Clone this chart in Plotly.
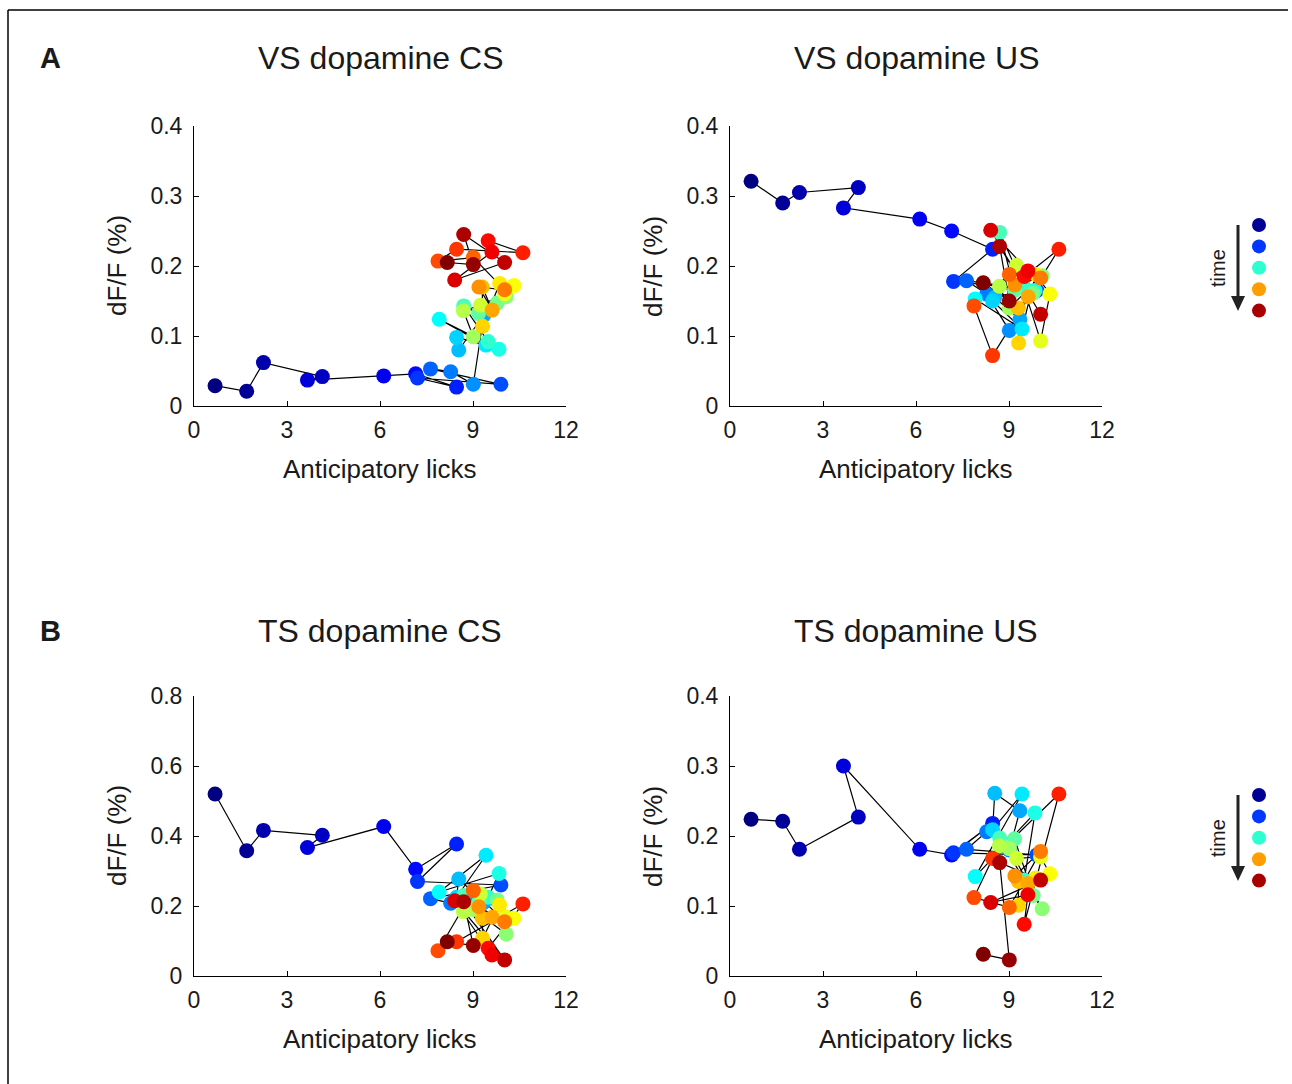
import plotly.graph_objects as go

# ---------------- data ----------------
licks = [0.68, 1.70, 2.24, 4.14, 3.66, 6.12, 7.15, 8.47, 7.21, 9.90,
         7.63, 8.28, 9.01, 9.35, 8.54, 8.47, 9.42, 7.91, 9.84, 9.49,
         8.70, 9.18, 9.78, 10.07, 9.01, 8.69, 9.24, 10.02, 10.32, 9.86,
         9.31, 9.30, 9.62, 9.19, 10.02, 9.01, 7.87, 8.47, 10.61, 9.49,
         9.61, 8.41, 10.02, 8.70, 9.01, 8.17]

vs_cs = [0.029, 0.021, 0.062, 0.042, 0.037, 0.043, 0.046, 0.027, 0.040, 0.031,
         0.053, 0.049, 0.031, 0.130, 0.080, 0.098, 0.087, 0.124, 0.081, 0.092,
         0.143, 0.132, 0.147, 0.156, 0.099, 0.136, 0.144, 0.160, 0.172, 0.175,
         0.114, 0.170, 0.137, 0.170, 0.166, 0.212, 0.207, 0.224, 0.219, 0.236,
         0.220, 0.180, 0.205, 0.245, 0.202, 0.205]

vs_us = [0.321, 0.290, 0.305, 0.312, 0.283, 0.267, 0.250, 0.224, 0.178, 0.165,
         0.179, 0.160, 0.108, 0.124, 0.155, 0.150, 0.110, 0.153, 0.165, 0.170,
         0.248, 0.165, 0.161, 0.186, 0.140, 0.171, 0.201, 0.093, 0.160, 0.188,
         0.090, 0.140, 0.156, 0.173, 0.183, 0.188, 0.143, 0.072, 0.224, 0.185,
         0.193, 0.251, 0.131, 0.228, 0.150, 0.176]

ts_cs = [0.520, 0.358, 0.416, 0.402, 0.367, 0.427, 0.305, 0.377, 0.270, 0.260,
         0.221, 0.208, 0.205, 0.210, 0.277, 0.225, 0.345, 0.240, 0.293, 0.225,
         0.230, 0.210, 0.217, 0.120, 0.190, 0.184, 0.234, 0.170, 0.165, 0.203,
         0.108, 0.165, 0.168, 0.198, 0.155, 0.244, 0.072, 0.098, 0.206, 0.079,
         0.060, 0.215, 0.046, 0.212, 0.087, 0.098]

ts_us = [0.224, 0.221, 0.181, 0.227, 0.300, 0.181, 0.173, 0.218, 0.176, 0.173,
         0.181, 0.206, 0.180, 0.236, 0.261, 0.209, 0.260, 0.142, 0.233, 0.137,
         0.197, 0.196, 0.115, 0.096, 0.182, 0.186, 0.168, 0.170, 0.146, 0.140,
         0.101, 0.135, 0.132, 0.143, 0.178, 0.098, 0.112, 0.168, 0.260, 0.074,
         0.116, 0.105, 0.137, 0.162, 0.023, 0.031]

panel_titles = ["VS dopamine CS", "VS dopamine US", "TS dopamine CS", "TS dopamine US"]
x_ticks = [0, 3, 6, 9, 12]
y_ticks_vs = [0, 0.1, 0.2, 0.3, 0.4]
y_ticks_ts_cs = [0, 0.2, 0.4, 0.6, 0.8]
y_ticks_ts_us = [0, 0.1, 0.2, 0.3, 0.4]
legend_levels = [0.02, 0.18, 0.42, 0.72, 0.96]

# ---------------- helpers ----------------
W, H = 1292, 1084
FONT = "Liberation Sans, Arial, Helvetica, sans-serif"
TXT = "#1a1a1a"


def jet(t):
    def c(v):
        return max(0.0, min(1.0, v))
    r = c(1.5 - abs(4 * t - 3))
    g = c(1.5 - abs(4 * t - 2))
    b = c(1.5 - abs(4 * t - 1))
    return f"rgb({int(round(r*255))},{int(round(g*255))},{int(round(b*255))})"


N = len(licks)
colors = [jet(i / (N - 1)) for i in range(N)]


def px_x(p):
    return p / W


def px_y(p):
    return 1 - p / H


fig = go.Figure()

panels = [
    (vs_cs, (194, 566), (126, 406), [0, 0.4], y_ticks_vs, 58),
    (vs_us, (730, 1102), (126, 406), [0, 0.4], y_ticks_vs, 58),
    (ts_cs, (194, 566), (696, 976), [0, 0.8], y_ticks_ts_cs, 631),
    (ts_us, (730, 1102), (696, 976), [0, 0.4], y_ticks_ts_us, 631),
]

annotations = []
shapes = []

for k, (yv, (xl, xr), (yt, yb), yr, yt_vals, ty) in enumerate(panels):
    n = "" if k == 0 else str(k + 1)
    xa = "x" + n
    ya = "y" + n
    fig.add_trace(go.Scatter(x=licks, y=yv, mode="lines", xaxis=xa, yaxis=ya,
                             line=dict(color="black", width=1.2),
                             showlegend=False, hoverinfo="skip", cliponaxis=False))
    fig.add_trace(go.Scatter(x=licks, y=yv, mode="markers", xaxis=xa, yaxis=ya,
                             marker=dict(size=15, color=colors, line=dict(width=0), opacity=1),
                             showlegend=False, cliponaxis=False))
    axis_common = dict(showgrid=False, zeroline=False, showline=True, linecolor="black",
                       linewidth=1, ticks="inside", ticklen=5, tickwidth=1, tickcolor="black",
                       tickfont=dict(family=FONT, size=23, color=TXT), mirror=False,
                       automargin=False)
    fig.update_layout(**{
        ("xaxis" + n): dict(domain=[px_x(xl), px_x(xr)], range=[0, 12], tickvals=x_ticks,
                            anchor=ya, ticklabelstandoff=3, **axis_common),
        ("yaxis" + n): dict(domain=[px_y(yb), px_y(yt)], range=yr, tickvals=yt_vals,
                            anchor=xa, ticklabelstandoff=6, **axis_common),
    })
    cx = (xl + xr) / 2
    annotations.append(dict(text=panel_titles[k], x=px_x(cx), y=px_y(ty),
                            xref="paper", yref="paper", showarrow=False,
                            xanchor="center", yanchor="middle",
                            font=dict(family=FONT, size=32, color=TXT)))
    annotations.append(dict(text="Anticipatory licks", x=px_x(cx), y=px_y(yb + 63),
                            xref="paper", yref="paper", showarrow=False,
                            xanchor="center", yanchor="middle",
                            font=dict(family=FONT, size=26, color=TXT)))
    annotations.append(dict(text="dF/F (%)", x=px_x(xl - 77), y=px_y((yt + yb) / 2),
                            xref="paper", yref="paper", showarrow=False, textangle=-90,
                            xanchor="center", yanchor="middle",
                            font=dict(family=FONT, size=26, color=TXT)))

# panel letters
for letter, yy in (("A", 58), ("B", 631)):
    annotations.append(dict(text="<b>" + letter + "</b>", x=px_x(50), y=px_y(yy),
                            xref="paper", yref="paper", showarrow=False,
                            xanchor="center", yanchor="middle",
                            font=dict(family=FONT, size=29, color=TXT)))

# time legends
for off in (0, 570):
    for j, lv in enumerate(legend_levels):
        cy = 225 + off + j * 21.4
        shapes.append(dict(type="circle", xref="paper", yref="paper",
                           x0=px_x(1252), x1=px_x(1266), y0=px_y(cy + 7), y1=px_y(cy - 7),
                           fillcolor=jet(lv), line=dict(width=0)))
    shapes.append(dict(type="line", xref="paper", yref="paper",
                       x0=px_x(1238), x1=px_x(1238), y0=px_y(225 + off), y1=px_y(298 + off),
                       line=dict(color="#222", width=3)))
    shapes.append(dict(type="path", xref="paper", yref="paper",
                       path=(f"M {px_x(1231)} {px_y(296 + off)} L {px_x(1245)} {px_y(296 + off)} "
                             f"L {px_x(1238)} {px_y(311 + off)} Z"),
                       fillcolor="#222", line=dict(width=0)))
    annotations.append(dict(text="time", x=px_x(1218), y=px_y(268 + off),
                            xref="paper", yref="paper", showarrow=False, textangle=-90,
                            xanchor="center", yanchor="middle",
                            font=dict(family=FONT, size=20, color=TXT)))

# outer frame (top and left)
shapes.append(dict(type="line", xref="paper", yref="paper", x0=px_x(8), x1=px_x(1288),
                   y0=px_y(10), y1=px_y(10), line=dict(color="black", width=1.5)))
shapes.append(dict(type="line", xref="paper", yref="paper", x0=px_x(8), x1=px_x(8),
                   y0=px_y(10), y1=px_y(1084), line=dict(color="black", width=1.5)))

fig.update_layout(width=W, height=H, margin=dict(l=0, r=0, t=0, b=0, pad=0),
                  paper_bgcolor="white", plot_bgcolor="white",
                  annotations=annotations, shapes=shapes, showlegend=False)

fig.write_html("out.html",
               post_script="document.body.style.margin='0';document.body.style.overflow='hidden';")
